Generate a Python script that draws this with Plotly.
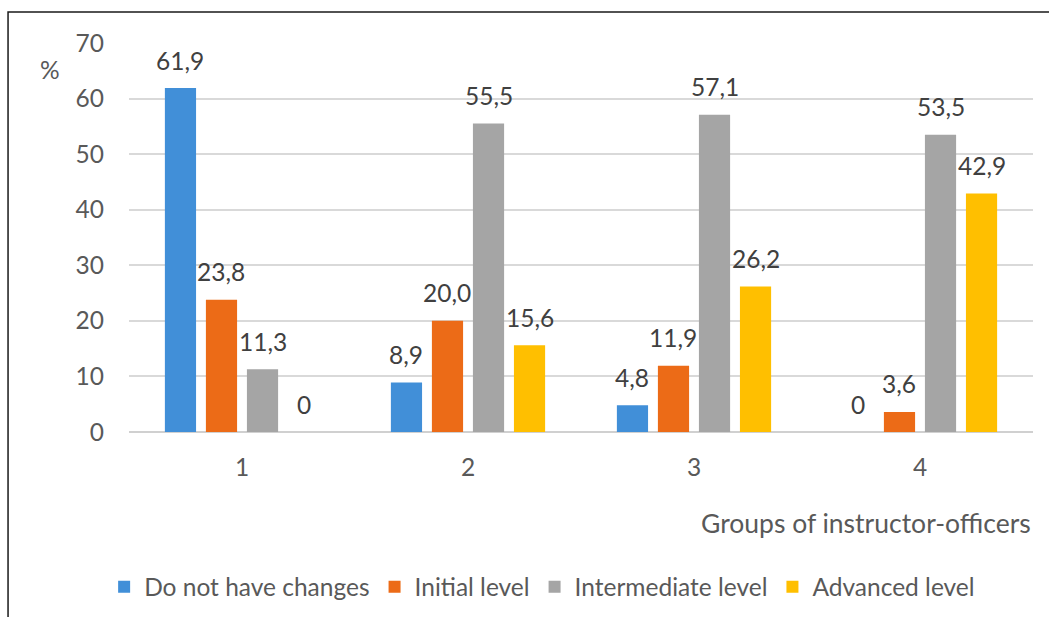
import plotly.graph_objects as go

# Groups and percentages per competence level
groups = ["1", "2", "3", "4"]
series_names = ["Do not have changes", "Initial level", "Intermediate level", "Advanced level"]
no_changes = [61.9, 8.9, 4.8, 0]
initial = [23.8, 20.0, 11.9, 3.6]
intermediate = [11.3, 55.5, 57.1, 53.5]
advanced = [0, 15.6, 26.2, 42.9]
y_ticks = [0, 10, 20, 30, 40, 50, 60, 70]

series_values = [no_changes, initial, intermediate, advanced]
colors = ["#418fd8", "#ec6b17", "#a5a5a5", "#ffbf00"]

FONT = "Lato"
FS = 24.5
TICK_COLOR = "#595959"
LABEL_COLOR = "#404040"
BARGAP = 0.274


def fmt(v):
    # comma as decimal separator; a zero is written without decimals
    return "0" if v == 0 else f"{v:.1f}".replace(".", ",")


fig = go.Figure()
for name, vals, col in zip(series_names, series_values, colors):
    fig.add_trace(go.Bar(
        x=groups, y=vals, name=name,
        marker=dict(color=col, line=dict(width=0)),
        hoverinfo="x+y+name",
    ))

# value labels above each bar
n = len(series_names)
slot = (1 - BARGAP) / n
annotations = []
for k, vals in enumerate(series_values):
    for i, v in enumerate(vals):
        annotations.append(dict(
            x=i + (k - (n - 1) / 2) * slot, y=v, xref="x", yref="y",
            text=fmt(v), showarrow=False, yanchor="middle", yshift=28,
            font=dict(family=FONT, size=FS, color=LABEL_COLOR),
        ))

# unit label next to the value axis
annotations.append(dict(
    x=-0.087, y=0.933, xref="paper", yref="paper", text="%",
    showarrow=False, xanchor="center", yanchor="middle",
    font=dict(family=FONT, size=FS, color=TICK_COLOR),
))
# category axis title, right-aligned
annotations.append(dict(
    x=0.9995, y=-0.234, xref="paper", yref="paper",
    text="Groups of instructor-officers", showarrow=False,
    xanchor="right", yanchor="middle",
    font=dict(family=FONT, size=26.5, color=TICK_COLOR),
))

fig.update_layout(
    width=1049, height=617,
    margin=dict(l=129, r=16, t=43, b=185, pad=0, autoexpand=False),
    paper_bgcolor="white", plot_bgcolor="white",
    barmode="group", bargap=BARGAP, bargroupgap=0.24,
    font=dict(family=FONT, size=FS, color=TICK_COLOR),
    showlegend=True,
    legend=dict(
        orientation="h", x=0.457, xanchor="center", y=-0.398, yanchor="middle",
        font=dict(family=FONT, size=FS, color=TICK_COLOR),
        itemwidth=30, traceorder="normal",
    ),
    annotations=annotations,
    shapes=[dict(
        type="rect", xref="paper", yref="paper",
        x0=-0.1338, x1=2.0, y0=-2.0, y1=1.0797,
        line=dict(color="#1a1a1a", width=1.5), fillcolor="rgba(0,0,0,0)",
        layer="below",
    )],
)

fig.update_xaxes(
    type="category", showgrid=False, showline=False, ticks="",
    tickfont=dict(family=FONT, size=FS, color=TICK_COLOR),
    ticklabelstandoff=18,
)
fig.update_yaxes(
    range=[0, 70], tickvals=y_ticks, showgrid=True,
    gridcolor="#d9d9d9", gridwidth=2,
    zeroline=True, zerolinecolor="#d0d0d0", zerolinewidth=2,
    showline=False, ticks="",
    tickfont=dict(family=FONT, size=FS, color=TICK_COLOR),
    ticklabelstandoff=24,
)

fig.write_html("out.html")
